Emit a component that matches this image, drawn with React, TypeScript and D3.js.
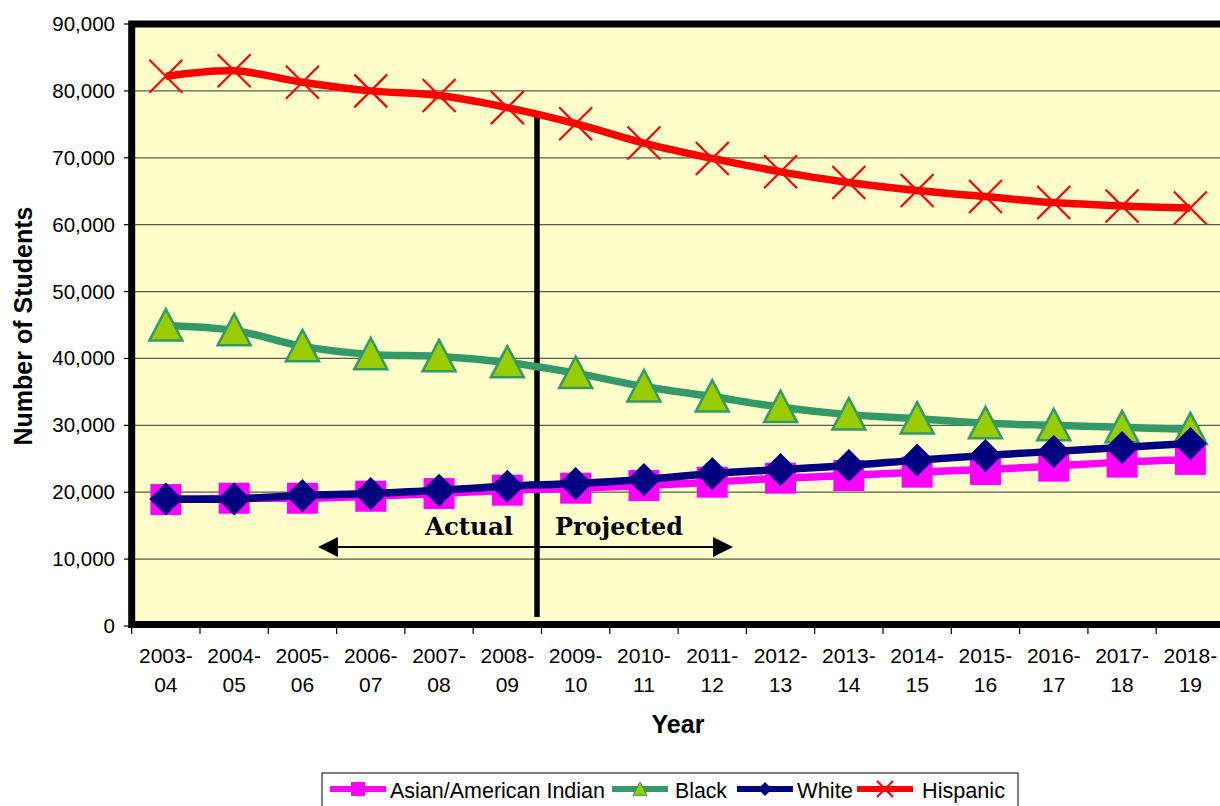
import * as d3 from "d3";

const years = [
  "2003-04", "2004-05", "2005-06", "2006-07", "2007-08", "2008-09", "2009-10", "2010-11",
  "2011-12", "2012-13", "2013-14", "2014-15", "2015-16", "2016-17", "2017-18", "2018-19",
];
const asian = [18900, 19100, 19100, 19400, 19800, 20300, 20600, 21000, 21500, 22100, 22500, 23000, 23400, 23900, 24500, 24900];
const black = [44900, 44200, 41800, 40600, 40300, 39400, 37800, 35800, 34300, 32700, 31600, 31000, 30300, 30000, 29700, 29400];
const white = [19000, 19000, 19500, 19800, 20300, 20900, 21300, 21900, 22800, 23400, 24000, 24800, 25500, 26100, 26700, 27300];
const hispanic = [82200, 83000, 81300, 80000, 79300, 77500, 75100, 72200, 69900, 67900, 66300, 65100, 64200, 63300, 62800, 62500];
const yTicks = [0, 10000, 20000, 30000, 40000, 50000, 60000, 70000, 80000, 90000];

const W = 1220;
const H = 806;
const left = 131.7;
const right = left + 16 * 68.3;
const top = 24;
const bottom = 626;

const font = "'Liberation Sans', Arial, sans-serif";

type Series = { name: string; values: number[]; color: string; marker: string };

const series: Series[] = [
  { name: "Asian/American Indian", values: asian, color: "#ff00ff", marker: "square" },
  { name: "Black", values: black, color: "#339966", marker: "triangle" },
  { name: "White", values: white, color: "#000080", marker: "diamond" },
  { name: "Hispanic", values: hispanic, color: "#ff0000", marker: "x" },
];

function Marker({ kind, cx, cy, s }: { kind: string; cx: number; cy: number; s: number }) {
  if (kind === "square")
    return <rect x={cx - s} y={cy - s} width={2 * s} height={2 * s} fill="#ff00ff" />;
  if (kind === "diamond")
    return (
      <path
        d={`M${cx},${cy - s}L${cx + s},${cy}L${cx},${cy + s}L${cx - s},${cy}Z`}
        fill="#000080"
      />
    );
  if (kind === "triangle")
    return (
      <path
        d={`M${cx},${cy - s}L${cx + s},${cy + s * 0.9}L${cx - s},${cy + s * 0.9}Z`}
        fill="#99cc00"
        stroke="#339966"
        strokeWidth={s > 10 ? 2.5 : 1}
      />
    );
  return (
    <path
      d={`M${cx - s},${cy - s}L${cx + s},${cy + s}M${cx - s},${cy + s}L${cx + s},${cy - s}`}
      stroke="#ff0000"
      strokeWidth={2.2}
      fill="none"
    />
  );
}

export default function App() {
  const x = d3.scaleBand<string>().domain(years).range([left, right]);
  const y = d3.scaleLinear().domain([0, 90000]).range([bottom, top]);
  const cx = (d: string) => (x(d) ?? 0) + x.bandwidth() / 2;
  const fmt = d3.format(",");

  const line = d3
    .line<number>()
    .x((_, i) => cx(years[i]))
    .y((d) => y(d))
    .curve(d3.curveCatmullRom.alpha(0.5));

  const divX = (x("2009-10") ?? 0) - 4.5;
  const arrowY = 547;

  // legend entry positions (sample start, text start, text width)
  const legendItems = [
    { s: series[0], lx: 330, tx: 390, tw: 215 },
    { s: series[1], lx: 612, tx: 675, tw: 52 },
    { s: series[2], lx: 737, tx: 797, tw: 56 },
    { s: series[3], lx: 857, tx: 922, tw: 83 },
  ];

  return (
    <svg
      width={W}
      height={H}
      style={{ position: "absolute", left: 0, top: 0, background: "#fff" }}
    >
      <defs>
        <clipPath id="plot">
          <rect x={left} y={top - 4} width={right - left} height={bottom - top + 8} />
        </clipPath>
      </defs>
      <rect x={left} y={top} width={right - left} height={bottom - top} fill="#ffffcc" />

      {yTicks.slice(1, -1).map((t) => (
        <line key={t} x1={left} x2={right} y1={y(t)} y2={y(t)} stroke="#5a5a4a" strokeWidth={1.2} />
      ))}

      {/* y axis ticks and labels */}
      {yTicks.map((t) => (
        <g key={t}>
          <line x1={124} x2={left} y1={y(t)} y2={y(t)} stroke="#000" strokeWidth={1.2} />
          <text
            x={115}
            y={y(t) + 7}
            textAnchor="end"
            fontFamily={font}
            fontSize={20.5}
            fill="#000"
          >
            {fmt(t)}
          </text>
        </g>
      ))}

      {/* x ticks and labels */}
      {years.map((yr) => (
        <g key={yr}>
          <line
            x1={x(yr) ?? 0}
            x2={x(yr) ?? 0}
            y1={bottom}
            y2={bottom + 8}
            stroke="#000"
            strokeWidth={1.2}
          />
          <text x={cx(yr)} y={663} textAnchor="middle" fontFamily={font} fontSize={21} fill="#000">
            {yr.slice(0, 5)}
          </text>
          <text x={cx(yr)} y={692} textAnchor="middle" fontFamily={font} fontSize={21} fill="#000">
            {yr.slice(5)}
          </text>
        </g>
      ))}

      {/* divider between actual and projected */}
      <line x1={divX} x2={divX} y1={113} y2={617} stroke="#000" strokeWidth={5.5} />

      <g clipPath="url(#plot)">
        {series.map((s) => (
          <g key={s.name}>
            <path d={line(s.values) ?? ""} fill="none" stroke={s.color} strokeWidth={7.5} />
            {s.values.map((v, i) => (
              <Marker
                key={i}
                kind={s.marker}
                cx={cx(years[i])}
                cy={y(v)}
                s={s.marker === "square" ? 15.5 : 16.5}
              />
            ))}
          </g>
        ))}
      </g>

      {/* actual / projected annotation */}
      <line x1={330} x2={722} y1={arrowY} y2={arrowY} stroke="#000" strokeWidth={2} />
      <path d={`M318,${arrowY}L338,${arrowY - 10}L338,${arrowY + 10}Z`} fill="#000" />
      <path d={`M733,${arrowY}L713,${arrowY - 10}L713,${arrowY + 10}Z`} fill="#000" />
      <text
        x={425}
        y={535}
        fontFamily="'DejaVu Serif', serif"
        fontWeight="bold"
        fontSize={25}
        textLength={88}
        lengthAdjust="spacingAndGlyphs"
        fill="#000"
      >
        Actual
      </text>
      <text
        x={555}
        y={535}
        fontFamily="'DejaVu Serif', serif"
        fontWeight="bold"
        fontSize={25}
        textLength={128}
        lengthAdjust="spacingAndGlyphs"
        fill="#000"
      >
        Projected
      </text>

      {/* plot border */}
      <rect
        x={left}
        y={top}
        width={right - left + 10}
        height={bottom - top - 1.5}
        fill="none"
        stroke="#000"
        strokeWidth={7}
      />

      {/* axis titles */}
      <text
        x={678}
        y={733}
        textAnchor="middle"
        fontFamily={font}
        fontWeight="bold"
        fontSize={25}
        fill="#000"
      >
        Year
      </text>
      <text
        transform={`translate(32,326) rotate(-90)`}
        textAnchor="middle"
        fontFamily={font}
        fontWeight="bold"
        fontSize={25}
        fill="#000"
      >
        Number of Students
      </text>

      {/* legend */}
      <rect x={322} y={773} width={696} height={44} fill="#fff" stroke="#000" strokeWidth={1} />
      {legendItems.map(({ s, lx, tx, tw }) => (
        <g key={s.name}>
          <line x1={lx} x2={lx + 56} y1={789} y2={789} stroke={s.color} strokeWidth={6} />
          <Marker kind={s.marker} cx={lx + 28} cy={789} s={s.marker === "x" ? 8 : 7} />
          <text
            x={tx}
            y={798}
            fontFamily={font}
            fontSize={22}
            textLength={tw}
            lengthAdjust="spacingAndGlyphs"
            fill="#000"
          >
            {s.name}
          </text>
        </g>
      ))}
    </svg>
  );
}
